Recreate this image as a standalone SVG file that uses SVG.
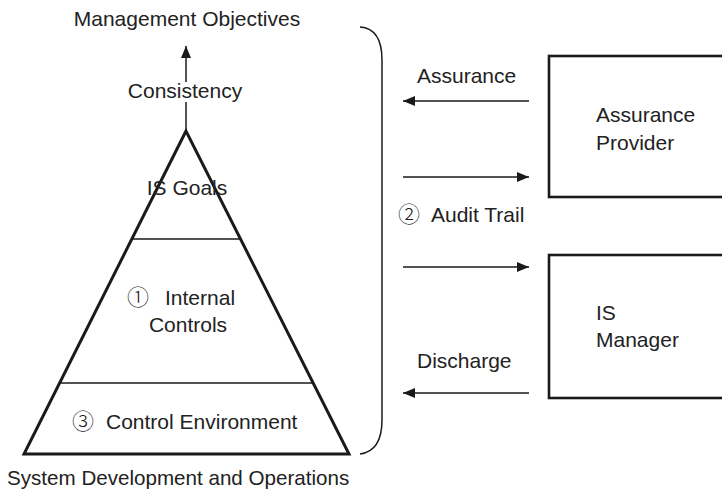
<svg xmlns="http://www.w3.org/2000/svg" width="722" height="493" viewBox="0 0 722 493">
  <defs>
    <marker id="head" viewBox="0 0 12 10" refX="12" refY="5" markerWidth="12" markerHeight="10" markerUnits="userSpaceOnUse" orient="auto">
      <path d="M0,0 L12,5 L0,10 Z" fill="#1a1a1a"/>
    </marker>
    <style>
      text { font-family: "Liberation Sans", Arial, sans-serif; font-size: 21px; fill: #222; }
      .num { font-family: "Noto Sans CJK JP", "DejaVu Sans", sans-serif; font-size: 22px; font-weight: 300; }
      .edge { stroke: #1a1a1a; stroke-width: 1.5; fill: none; }
      .box { stroke: #1a1a1a; stroke-width: 2.6; fill: #fff; }
      .tri { stroke: #1a1a1a; stroke-width: 3; fill: #fff; stroke-linejoin: miter; }
      .band { stroke: #1a1a1a; stroke-width: 1.5; }
    </style>
  </defs>
  <rect width="722" height="493" fill="#fff"/>

  <!-- pyramid of IS goals, internal controls and control environment -->
  <g id="pyramid">
    <polygon class="tri" points="186,131 24,454 349,454"/>
    <line class="band" x1="132" y1="239" x2="240" y2="239"/>
    <line class="band" x1="60" y1="383" x2="313" y2="383"/>
    <text x="187" y="195" text-anchor="middle">IS Goals</text>
    <text x="127" y="305"><tspan class="num">①</tspan><tspan x="165">Internal</tspan></text>
    <text x="188" y="332" text-anchor="middle">Controls</text>
    <text x="72" y="429"><tspan class="num">③</tspan><tspan x="106">Control Environment</tspan></text>
  </g>

  <g id="objectives">
    <text x="187" y="26" text-anchor="middle">Management Objectives</text>
  </g>
  <g id="consistency">
    <text x="185" y="98" text-anchor="middle">Consistency</text>
  </g>
  <g id="foundation">
    <text x="7" y="485" style="font-size:20.6px">System Development and Operations</text>
  </g>

  <g id="provider">
    <rect class="box" x="549" y="56" width="180" height="141"/>
    <text x="596" y="122">Assurance</text>
    <text x="596" y="150">Provider</text>
  </g>

  <g id="manager">
    <rect class="box" x="549" y="255" width="180" height="143"/>
    <text x="596" y="320">IS</text>
    <text x="596" y="347">Manager</text>
  </g>

  <g id="connectors">
    <!-- vertical arrow from apex to objectives, broken by its label -->
    <line class="edge" x1="186" y1="131" x2="186" y2="102"/>
    <line class="edge" x1="186" y1="82" x2="186" y2="46" marker-end="url(#head)"/>
    <!-- brace enclosing the pyramid -->
    <path class="edge" d="M360,27 C375,28 382,40 382,60 L382,420 C382,440 375,452 360,454"/>
    <!-- flows between the pyramid and the two parties -->
    <line class="edge" x1="529" y1="101" x2="403" y2="101" marker-end="url(#head)"/>
    <line class="edge" x1="403" y1="177" x2="529" y2="177" marker-end="url(#head)"/>
    <line class="edge" x1="403" y1="267" x2="529" y2="267" marker-end="url(#head)"/>
    <line class="edge" x1="529" y1="393" x2="403" y2="393" marker-end="url(#head)"/>
    <text x="417" y="83">Assurance</text>
    <text x="398" y="222"><tspan class="num">②</tspan><tspan x="431">Audit Trail</tspan></text>
    <text x="417" y="368">Discharge</text>
  </g>
</svg>
